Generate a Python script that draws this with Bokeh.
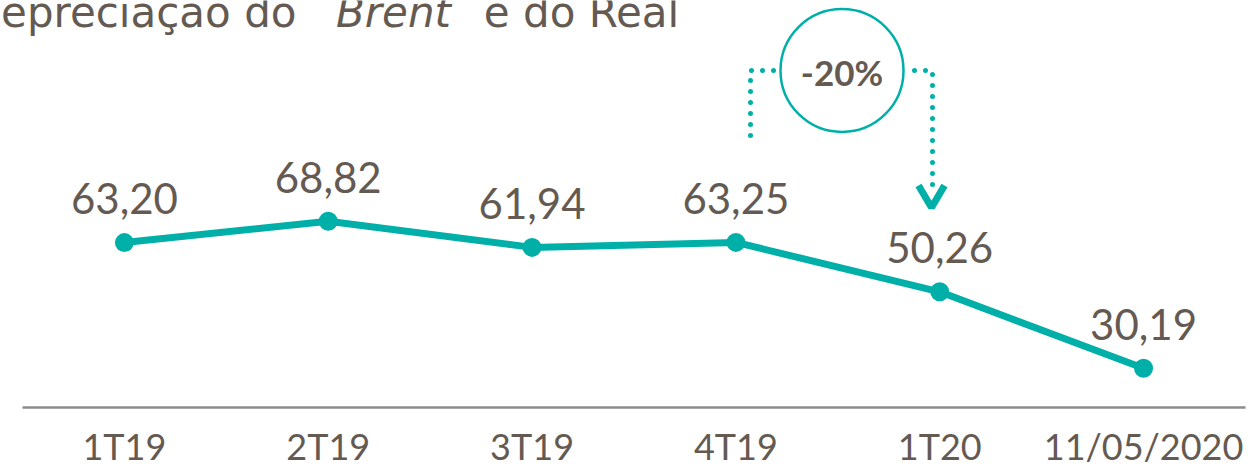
from bokeh.plotting import figure
from bokeh.models import Range1d, FixedTicker, Label
from bokeh.core.properties import value
from bokeh.embed import file_html
from bokeh.resources import INLINE

# ---- data ----
categories = ["1T19", "2T19", "3T19", "4T19", "1T20", "11/05/2020"]
brent = [63.20, 68.82, 61.94, 63.25, 50.26, 30.19]
labels = ["63,20", "68,82", "61,94", "63,25", "50,26", "30,19"]
change_label = "-20%"
title_parts = ["Depreciação do", "Brent", "e do Real"]

# ---- style ----
TEAL = "#00B0A8"
TEXT = "#645A52"
AXIS = "#8C8C8C"
FONT = "Lato"
TFONT = "DejaVu Sans"

W, H = 1259, 469
STEP = 203.83          # px per category
FIRST = 123.9          # px centre of first category
Y_TOP, Y_BOTTOM = 126.81, 3.58
AXIS_AT = 19.87

idx = list(range(len(categories)))

p = figure(width=W, height=H, output_backend="svg", toolbar_location=None,
           x_range=Range1d(-FIRST / STEP, (W - FIRST) / STEP),
           y_range=Range1d(Y_BOTTOM, Y_TOP),
           y_axis_location=None,
           min_border_left=0, min_border_right=0,
           min_border_top=0, min_border_bottom=0)
p.outline_line_color = None
p.grid.visible = False
p.background_fill_color = "white"

# pixel-like ranges for the decorative callout, title and baseline
p.extra_x_ranges = {"px": Range1d(0, W)}
p.extra_y_ranges = {"px": Range1d(H, 0)}

ax = p.xaxis[0]
ax.fixed_location = AXIS_AT
ax.ticker = FixedTicker(ticks=idx)
ax.major_label_overrides = {i: c for i, c in enumerate(categories)}
ax.major_tick_line_color = None
ax.minor_tick_line_color = None
ax.axis_line_color = None
ax.major_label_text_font = FONT
ax.major_label_text_font_size = "36px"
ax.major_label_text_color = TEXT
ax.major_label_standoff = 10

# baseline (axis rule) from 22 to 1245 px
p.segment(x0=[22], y0=[407], x1=[1245], y1=[407], x_range_name="px", y_range_name="px",
          line_color=AXIS, line_width=2.5)

# series
p.line(idx, brent, line_color=TEAL, line_width=7)
p.scatter(idx, brent, size=19, fill_color=TEAL, line_color=None)
p.text(idx, brent, text=labels, text_align="center", text_baseline="middle",
       y_offset=-44, text_font=value(FONT), text_font_size="42px", text_color=TEXT)

# title (clipped at left/top like the reference)
p.add_layout(Label(x=296, y=12, x_range_name="px", y_range_name="px", text=title_parts[0],
                   text_align="right", text_baseline="middle", text_font=TFONT,
                   text_font_size="42px", text_color=TEXT))
p.add_layout(Label(x=393, y=12, x_range_name="px", y_range_name="px", text=title_parts[1],
                   text_align="center", text_baseline="middle", text_font=TFONT,
                   text_font_size="42px", text_font_style="italic", text_color=TEXT))
p.add_layout(Label(x=581, y=12, x_range_name="px", y_range_name="px", text=title_parts[2],
                   text_align="center", text_baseline="middle", text_font=TFONT,
                   text_font_size="42px", text_color=TEXT))

# -20% callout
p.scatter([841.5], [70], x_range_name="px", y_range_name="px", size=123,
          fill_color=None, line_color=TEAL, line_width=2.5)
p.text([841.5], [71.5], text=[change_label], x_range_name="px", y_range_name="px",
       text_align="center", text_baseline="middle", text_font=value(FONT),
       text_font_size="35px", text_font_style="bold", text_color=TEXT)
p.line([750, 750, 774], [135, 70, 70], x_range_name="px", y_range_name="px",
       line_color=TEAL, line_width=5, line_dash="0 11", line_cap="round")
p.line([914, 932, 932], [70, 70, 188], x_range_name="px", y_range_name="px",
       line_color=TEAL, line_width=5, line_dash="0 11", line_cap="round")
p.line([918, 931, 944], [185, 207, 185], x_range_name="px", y_range_name="px",
       line_color=TEAL, line_width=7)

open("out.html", "w").write(file_html(p, INLINE))
